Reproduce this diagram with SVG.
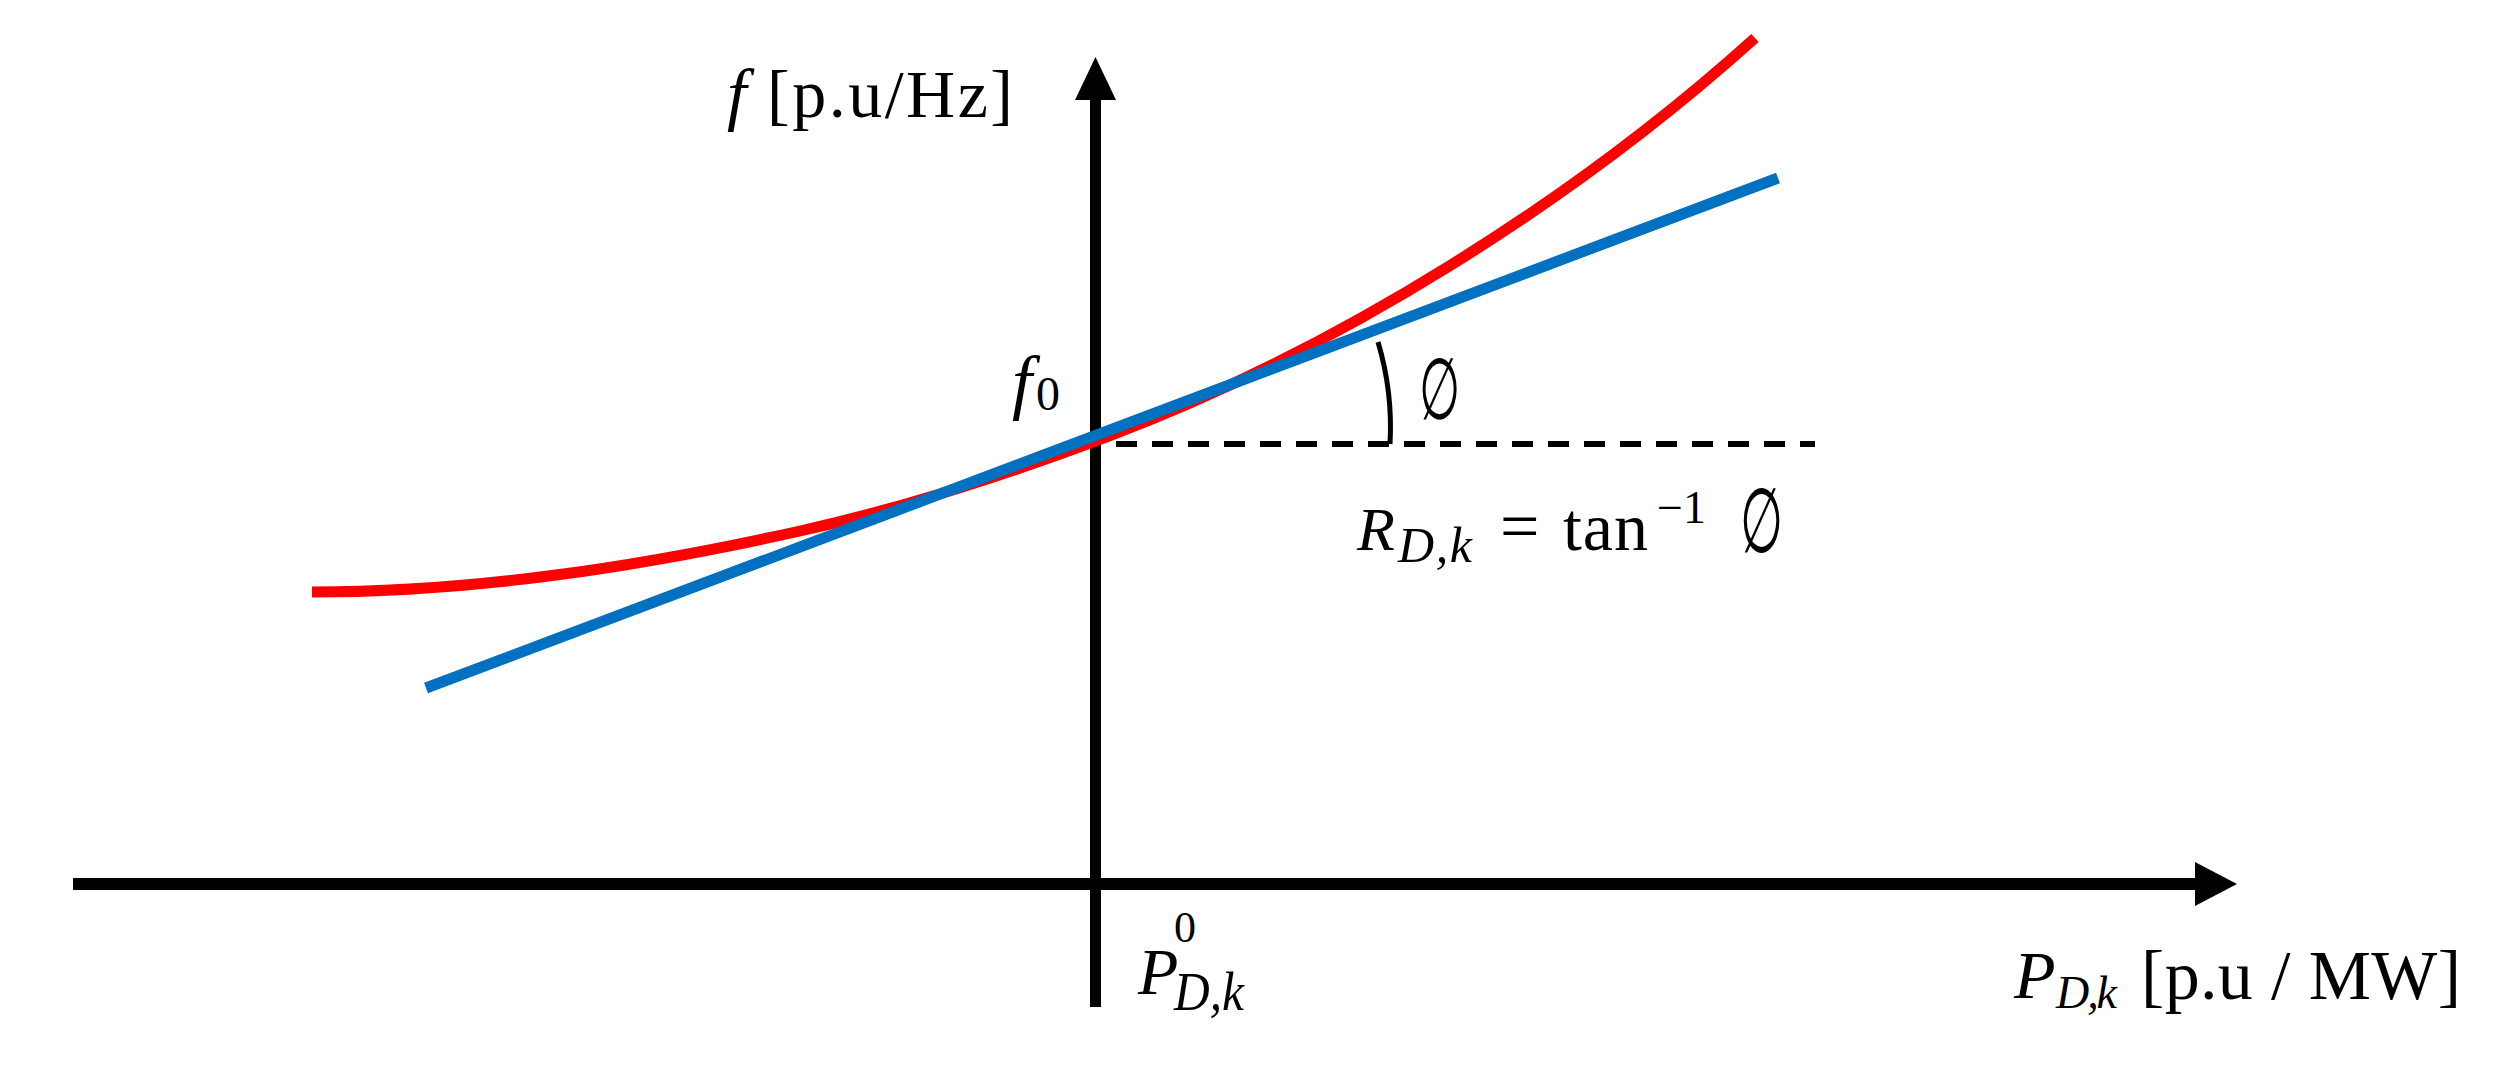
<svg xmlns="http://www.w3.org/2000/svg" width="2506" height="1065" viewBox="0 0 2506 1065">
<style>
.t{font-family:"Liberation Serif","Times New Roman",serif;fill:#000}
.i{font-style:italic}
.ax{stroke:#000;fill:none}
.sym{font-family:"DejaVu Serif","Liberation Serif",serif;fill:#000}
</style>
<rect width="2506" height="1065" fill="#fff"/>
<g id="axes">
<line class="ax" x1="73" y1="884" x2="2197" y2="884" stroke-width="12"/>
<polygon points="2195,862 2237,884 2195,906" fill="#000"/>
<line class="ax" x1="1095.5" y1="1007" x2="1095.5" y2="98" stroke-width="11"/>
<polygon points="1075,100 1095.5,57 1116,100" fill="#000"/>
</g>
<g id="connectors">
<line class="ax" x1="1116" y1="444" x2="1815" y2="444" stroke-width="6" stroke-dasharray="21 15"/>
<path class="ax" d="M1378,342 A297,297 0 0 1 1390,444" stroke-width="5"/>
</g>
<g id="curves">
<path d="M312,592 C474.7,592 637.3,567.1 800,531 C903.3,508.1 1006.7,474.6 1110,435.6 C1223.3,392.9 1336.7,335.9 1450,265.6 C1551.7,202.6 1653.3,129.5 1755,38" fill="none" stroke="#FF0000" stroke-width="11"/>
<line x1="426" y1="688" x2="1778" y2="178" stroke="#0070C0" stroke-width="11"/>
</g>
<g id="labels">
<text class="t i" x="727" y="117" font-size="70">f</text>
<text class="t" x="767" y="117" font-size="68" textLength="246">[p.u/Hz]</text>
<text class="t i" x="1012" y="406" font-size="72">f</text>
<text class="t" x="1036" y="410" font-size="48">0</text>
<text class="sym" x="0" y="0" font-size="86" transform="translate(1419,419) scale(0.55,1)">∅</text>
<text class="t i" x="1357" y="550" font-size="62">R</text>
<text class="t i" x="1398" y="562" font-size="50" textLength="74">D,k</text>
<text class="t" x="1500" y="550" font-size="70">=</text>
<text class="t" x="1563" y="550" font-size="68" textLength="85">tan</text>
<text class="t" x="1657" y="523" font-size="46">−1</text>
<text class="sym" x="0" y="0" font-size="90" transform="translate(1740,552) scale(0.55,1)">∅</text>
<text class="t i" x="1138" y="994" font-size="66">P</text>
<text class="t" x="1174" y="942" font-size="44">0</text>
<text class="t i" x="1174" y="1010" font-size="54" textLength="70" lengthAdjust="spacingAndGlyphs">D,k</text>
<text class="t i" x="2014" y="998" font-size="68">P</text>
<text class="t i" x="2056" y="1008" font-size="46" textLength="61">D,k</text>
<text class="t" x="2141" y="999" font-size="70" textLength="320">[p.u / MW]</text>
</g>
</svg>
